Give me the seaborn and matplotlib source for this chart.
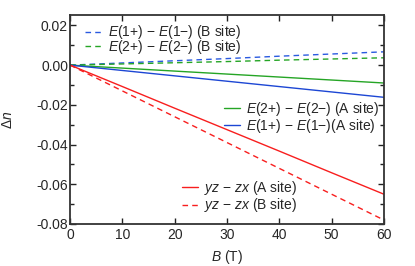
import pandas as pd
import matplotlib.pyplot as plt
import seaborn as sns
from matplotlib.ticker import MultipleLocator
from matplotlib.lines import Line2D

# data (B in T, Δn)
B = [0, 10, 20, 30, 40, 50, 60]
e1_b = [0.0, 0.0011, 0.0022, 0.0033, 0.0045, 0.0056, 0.0067]
e2_b = [0.0, 0.0006, 0.0012, 0.0018, 0.0025, 0.0031, 0.0037]
e2_a = [0.0, -0.0015, -0.0030, -0.0045, -0.0060, -0.0075, -0.0090]
e1_a = [0.0, -0.0027, -0.0054, -0.0081, -0.0108, -0.0135, -0.0162]
yz_a = [0.0, -0.0108, -0.0217, -0.0325, -0.0433, -0.0542, -0.0650]
yz_b = [0.0, -0.0130, -0.0260, -0.0390, -0.0520, -0.0650, -0.0780]

blue = "#1c46d4"
blue_d = "#2a5ae0"
green = "#25a525"
red = "#f81e1e"

sns.set_theme(style="ticks")
plt.rcParams['font.family'] = ['Liberation Sans', 'DejaVu Sans']
plt.rcParams['mathtext.fontset'] = 'custom'
plt.rcParams['mathtext.it'] = 'Liberation Sans:italic'
plt.rcParams['mathtext.rm'] = 'Liberation Sans'
plt.rcParams['axes.unicode_minus'] = False

fig = plt.figure(figsize=(4.15, 2.66), dpi=100)
ax = fig.add_axes([0.169, 0.158, 0.756, 0.786])

series = [
    (e1_b, blue_d, (0, (4, 3))),
    (e2_b, green, (0, (4, 3))),
    (e2_a, green, "-"),
    (e1_a, blue, "-"),
    (yz_a, red, "-"),
    (yz_b, red, (0, (4, 3))),
]
for ys, c, ls in series:
    df = pd.DataFrame({"B": B, "dn": ys})
    sns.lineplot(data=df, x="B", y="dn", ax=ax, color=c, linestyle=ls, linewidth=1.0)

ax.set_xlim(0, 60)
ax.set_ylim(-0.08, 0.0253)
ax.xaxis.set_major_locator(MultipleLocator(10))
ax.yaxis.set_major_locator(MultipleLocator(0.02))
ax.yaxis.set_minor_locator(MultipleLocator(0.01))
ax.yaxis.set_major_formatter(plt.FuncFormatter(lambda v, p: f"{v:.2f}"))
ax.tick_params(which="both", direction="in", top=True, right=True, labelsize=10,
               color="#222222")
ax.tick_params(axis="y", pad=1.5)
ax.tick_params(axis="x", pad=3)
ax.tick_params(which="major", length=4, width=1)
ax.tick_params(which="minor", length=3, width=1)
for s in ax.spines.values():
    s.set_linewidth(1.3)
    s.set_color("#333333")

ax.set_xlabel("$B$ (T)", fontsize=10, labelpad=4.5)
ax.set_ylabel(r"$\Delta n$", fontsize=10, labelpad=15)

dash = (0, (4, 3))
leg_kw = dict(frameon=False, fontsize=10, handlelength=1.15, handletextpad=0.45,
              borderaxespad=0.0, borderpad=0.3)

h1 = [Line2D([], [], color=blue_d, ls=dash, lw=1), Line2D([], [], color=green, ls=dash, lw=1)]
l1 = ["$E$(1+) − $E$(1−) (B site)", "$E$(2+) − $E$(2−) (B site)"]
leg1 = ax.legend(h1, l1, loc="upper left", bbox_to_anchor=(0.035, 0.979),
                 labelspacing=-0.28, **leg_kw)
ax.add_artist(leg1)

h2 = [Line2D([], [], color=green, lw=1), Line2D([], [], color=blue, lw=1)]
l2 = ["$E$(2+) − $E$(2−) (A site)", "$E$(1+) − $E$(1−)(A site)"]
leg2 = ax.legend(h2, l2, loc="center right", bbox_to_anchor=(0.999, 0.509),
                 labelspacing=-0.09, **leg_kw)
ax.add_artist(leg2)

h3 = [Line2D([], [], color=red, lw=1), Line2D([], [], color=red, ls=dash, lw=1)]
l3 = ["$yz$ − $zx$ (A site)", "$yz$ − $zx$ (B site)"]
ax.legend(h3, l3, loc="lower left", bbox_to_anchor=(0.342, 0.026),
          labelspacing=-0.04, **leg_kw)

plt.savefig("out.png", dpi=100)
